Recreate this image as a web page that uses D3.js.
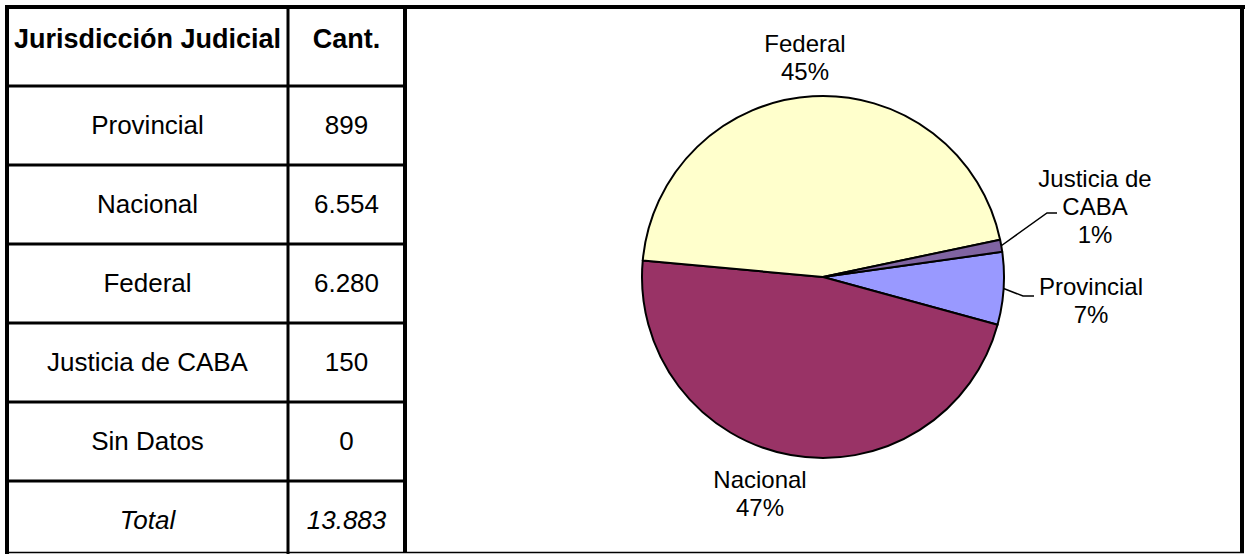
<!DOCTYPE html>
<html>
<head>
<meta charset="utf-8">
<script src="https://cdn.jsdelivr.net/npm/d3@7"></script>
<style>
  body { margin: 0; background: #fff; }
  svg { display: block; }
  text { font-family: Arial, "Liberation Sans", sans-serif; fill: #000; }
</style>
</head>
<body>
<svg width="1249" height="554"></svg>
<script>
// datos
const encabezados = ["Jurisdicción Judicial", "Cant."];
const categorias = ["Provincial", "Nacional", "Federal", "Justicia de CABA", "Sin Datos"];
const cantidades = [899, 6554, 6280, 150, 0];
const etiquetaTotal = "Total";
const etiquetasTorta = [["Provincial"], ["Nacional"], ["Federal"], ["Justicia de", "CABA"], ["Sin Datos"]];
const coloresTorta = ["#9999FF", "#993366", "#FFFFCC", "#8064A2", "#CCFFFF"];

const svg = d3.select("svg");
const fmt = d3.formatLocale({ decimal: ",", thousands: ".", grouping: [3], currency: ["$", ""] }).format(",d");
const total = d3.sum(cantidades);

// ---------- tabla ----------
const filas = ["h"].concat(categorias, ["t"]);
const y = d3.scaleBand().domain(d3.range(filas.length)).range([7, 7 + 79 * filas.length]);
const colX = [7, 288, 405];
const colCentro = [(colX[0] + colX[1]) / 2, (colX[1] + colX[2]) / 2];

// lineas horizontales entre filas
svg.append("g").selectAll("line")
  .data(d3.range(1, filas.length))
  .join("line")
  .attr("x1", colX[0]).attr("x2", colX[2])
  .attr("y1", d => y(d)).attr("y2", d => y(d))
  .attr("stroke", "#000").attr("stroke-width", 3);

// linea entre columnas
svg.append("line")
  .attr("x1", colX[1]).attr("x2", colX[1])
  .attr("y1", 7).attr("y2", 554)
  .attr("stroke", "#000").attr("stroke-width", 3);

// encabezado
svg.append("g").selectAll("text")
  .data(encabezados)
  .join("text")
  .attr("x", (d, i) => colCentro[i])
  .attr("y", 48)
  .attr("text-anchor", "middle")
  .attr("font-weight", "bold")
  .attr("font-size", 27)
  .text(d => d);

// filas de datos
const filasDatos = svg.append("g").selectAll("g")
  .data(categorias.map((c, i) => ({ cat: c, val: cantidades[i], fila: i + 1 })))
  .join("g");

filasDatos.append("text")
  .attr("x", colCentro[0])
  .attr("y", d => y(d.fila) + y.bandwidth() / 2 + 8)
  .attr("text-anchor", "middle")
  .attr("font-size", 26)
  .text(d => d.cat);

filasDatos.append("text")
  .attr("x", colCentro[1])
  .attr("y", d => y(d.fila) + y.bandwidth() / 2 + 8)
  .attr("text-anchor", "middle")
  .attr("font-size", 26)
  .text(d => fmt(d.val));

// fila total
const filaT = filas.length - 1;
[etiquetaTotal, fmt(total)].forEach((t, i) => {
  svg.append("text")
    .attr("x", colCentro[i])
    .attr("y", y(filaT) + y.bandwidth() / 2 + 8)
    .attr("text-anchor", "middle")
    .attr("font-style", "italic")
    .attr("font-size", 26)
    .text(t);
});

// ---------- torta ----------
const cx = 823, cy = 277, radio = 181;
const inicio = 82 * Math.PI / 180;

// porcentajes redondeados para que sumen 100 (resto mayor)
const crudos = cantidades.map(v => v / total * 100);
const pct = crudos.map(Math.floor);
let falta = 100 - d3.sum(pct);
d3.range(crudos.length)
  .sort((a, b) => (crudos[b] - pct[b]) - (crudos[a] - pct[a]))
  .slice(0, falta)
  .forEach(i => pct[i] += 1);

const pie = d3.pie().sort(null).value(d => d.val)
  .startAngle(inicio).endAngle(inicio + 2 * Math.PI);
const arc = d3.arc().innerRadius(0).outerRadius(radio);

const datosTorta = cantidades.map((v, i) => ({ val: v, i: i }));
const arcos = pie(datosTorta).filter(d => d.data.val > 0);

const gTorta = svg.append("g").attr("transform", `translate(${cx},${cy})`);
gTorta.selectAll("path")
  .data(arcos)
  .join("path")
  .attr("d", arc)
  .attr("fill", d => coloresTorta[d.data.i])
  .attr("stroke", "#000")
  .attr("stroke-width", 2)
  .attr("stroke-linejoin", "round");

// posicion de las etiquetas (centro del texto, linea base de la primera linea)
const posEtiqueta = {
  0: { x: 1091, y: 295, guia: [1023, 296, 1034] },
  1: { x: 760, y: 488 },
  2: { x: 805, y: 52 },
  3: { x: 1095, y: 187, guia: [1047, 213, 1057] }
};

arcos.forEach(d => {
  const p = posEtiqueta[d.data.i];
  if (!p) return;
  const lineas = etiquetasTorta[d.data.i].concat([pct[d.data.i] + "%"]);
  const t = svg.append("text")
    .attr("text-anchor", "middle")
    .attr("font-size", 24);
  lineas.forEach((l, k) => {
    t.append("tspan").attr("x", p.x).attr("y", p.y + k * 28).text(l);
  });
  if (p.guia) {
    const a = (d.startAngle + d.endAngle) / 2;
    const ex = cx + radio * Math.sin(a), ey = cy - radio * Math.cos(a);
    svg.append("polyline")
      .attr("points", `${ex},${ey} ${p.guia[0]},${p.guia[1]} ${p.guia[2]},${p.guia[1]}`)
      .attr("fill", "none")
      .attr("stroke", "#000")
      .attr("stroke-width", 1.5);
  }
});

// ---------- bordes ----------
svg.append("line").attr("x1", 5).attr("x2", 1245).attr("y1", 7).attr("y2", 7)
  .attr("stroke", "#000").attr("stroke-width", 4);
svg.append("line").attr("x1", 7).attr("x2", 7).attr("y1", 5).attr("y2", 554)
  .attr("stroke", "#000").attr("stroke-width", 4);
svg.append("line").attr("x1", 405).attr("x2", 405).attr("y1", 5).attr("y2", 553)
  .attr("stroke", "#000").attr("stroke-width", 4);
svg.append("line").attr("x1", 1242).attr("x2", 1242).attr("y1", 5).attr("y2", 553)
  .attr("stroke", "#000").attr("stroke-width", 4);
svg.append("line").attr("x1", 5).attr("x2", 1244).attr("y1", 552.5).attr("y2", 552.5)
  .attr("stroke", "#000").attr("stroke-width", 1.5);
</script>
</body>
</html>
